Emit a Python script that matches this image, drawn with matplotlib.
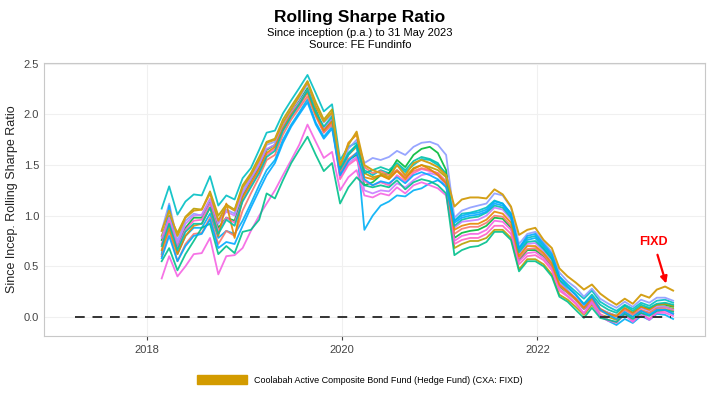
import numpy as np
import pandas as pd
import matplotlib
matplotlib.use("Agg")
import matplotlib.pyplot as plt
import matplotlib.dates as mdates

plt.rcParams['font.family'] = ['Liberation Sans', 'DejaVu Sans']

# monthly points, Feb 2018 .. May 2023
months = pd.period_range('2018-02', '2023-05', freq='M')
dates = months.to_timestamp(how='start') + pd.Timedelta(days=23)

fixd = [0.85, 1.05, 0.80, 0.98, 1.05, 1.06, 1.22, 0.95, 1.10, 1.05, 1.28, 1.40, 1.55, 1.72, 1.75, 1.92,
        2.05, 2.18, 2.32, 2.08, 1.93, 2.02, 1.50, 1.70, 1.83, 1.50, 1.45, 1.42, 1.38, 1.50, 1.40, 1.52,
        1.55, 1.52, 1.48, 1.40, 1.09, 1.16, 1.18, 1.18, 1.17, 1.26, 1.21, 1.09, 0.81, 0.86, 0.88, 0.76,
        0.68, 0.48, 0.40, 0.34, 0.27, 0.32, 0.23, 0.17, 0.12, 0.18, 0.13, 0.22, 0.19, 0.27, 0.30, 0.26]

peers = {
    '#00BFC4': [1.07, 1.29, 1.01, 1.14, 1.21, 1.20, 1.39, 1.10, 1.20, 1.16, 1.37, 1.47, 1.65, 1.82, 1.84, 2.01,
                2.14, 2.26, 2.39, 2.21, 2.03, 2.10, 1.55, 1.68, 1.72, 1.45, 1.40, 1.45, 1.42, 1.50, 1.43, 1.50,
                1.56, 1.55, 1.50, 1.42, 0.95, 1.02, 1.03, 1.05, 1.08, 1.15, 1.12, 1.02, 0.68, 0.78, 0.80, 0.70,
                0.60, 0.40, 0.32, 0.25, 0.18, 0.26, 0.15, 0.10, 0.06, 0.12, 0.08, 0.14, 0.11, 0.16, 0.17, 0.14],
    '#B79F00': [0.80, 1.00, 0.83, 0.99, 1.07, 1.06, 1.24, 1.00, 1.11, 1.06, 1.30, 1.42, 1.58, 1.73, 1.76, 1.95,
                2.08, 2.20, 2.33, 2.12, 1.95, 2.05, 1.45, 1.60, 1.68, 1.42, 1.38, 1.40, 1.37, 1.45, 1.38, 1.47,
                1.50, 1.48, 1.45, 1.38, 0.68, 0.72, 0.75, 0.75, 0.78, 0.86, 0.86, 0.78, 0.47, 0.57, 0.57, 0.52,
                0.42, 0.22, 0.17, 0.10, 0.02, 0.12, 0.02, 0.00, -0.03, 0.04, 0.00, 0.06, 0.04, 0.09, 0.10, 0.08],
    '#00BA38': [0.76, 0.92, 0.70, 0.88, 0.98, 0.98, 1.13, 0.88, 0.98, 0.95, 1.20, 1.35, 1.48, 1.65, 1.70, 1.88,
                2.02, 2.13, 2.26, 2.05, 1.85, 1.95, 1.40, 1.55, 1.60, 1.30, 1.33, 1.40, 1.42, 1.55, 1.48, 1.60,
                1.66, 1.68, 1.62, 1.45, 0.78, 0.83, 0.85, 0.86, 0.90, 0.98, 0.97, 0.88, 0.56, 0.66, 0.66, 0.60,
                0.50, 0.30, 0.24, 0.17, 0.08, 0.17, 0.07, 0.04, 0.01, 0.08, 0.04, 0.10, 0.08, 0.12, 0.12, 0.10],
    '#8C9CFF': [0.85, 1.12, 0.75, 0.95, 1.02, 1.00, 1.16, 0.92, 1.06, 1.02, 1.25, 1.38, 1.52, 1.70, 1.73, 1.92,
                2.05, 2.16, 2.30, 2.08, 1.92, 2.00, 1.48, 1.66, 1.75, 1.52, 1.57, 1.55, 1.58, 1.64, 1.60, 1.68,
                1.72, 1.73, 1.70, 1.60, 0.98, 1.05, 1.08, 1.10, 1.12, 1.22, 1.20, 1.08, 0.72, 0.82, 0.84, 0.74,
                0.64, 0.44, 0.35, 0.29, 0.20, 0.28, 0.18, 0.13, 0.09, 0.15, 0.10, 0.17, 0.14, 0.19, 0.19, 0.16],
    '#00B0F6': [0.62, 1.10, 0.62, 0.80, 0.88, 0.88, 1.02, 0.78, 0.85, 0.82, 0.95, 1.12, 1.30, 1.45, 1.55, 1.75,
                1.90, 2.02, 2.15, 1.92, 1.78, 1.88, 1.42, 1.60, 1.70, 0.86, 1.00, 1.10, 1.14, 1.20, 1.19, 1.25,
                1.27, 1.32, 1.35, 1.30, 0.95, 1.00, 1.02, 1.03, 1.06, 1.14, 1.12, 1.02, 0.66, 0.76, 0.78, 0.68,
                0.58, 0.36, 0.26, 0.18, 0.08, 0.14, 0.02, -0.04, -0.08, -0.02, -0.06, 0.01, -0.03, 0.03, 0.02, -0.02],
    '#C77CFF': [0.78, 0.98, 0.72, 0.92, 1.00, 1.01, 1.17, 0.93, 1.04, 1.00, 1.22, 1.36, 1.50, 1.66, 1.70, 1.88,
                2.02, 2.12, 2.24, 2.02, 1.86, 1.96, 1.38, 1.52, 1.58, 1.25, 1.22, 1.25, 1.24, 1.32, 1.28, 1.35,
                1.40, 1.42, 1.40, 1.30, 0.88, 0.94, 0.95, 0.96, 1.00, 1.08, 1.06, 0.96, 0.62, 0.72, 0.73, 0.65,
                0.55, 0.34, 0.26, 0.19, 0.10, 0.20, 0.08, 0.04, 0.01, 0.08, 0.03, 0.09, 0.06, 0.10, 0.10, 0.07],
    '#FF61C3': [0.72, 0.95, 0.68, 0.86, 0.95, 0.96, 1.12, 0.85, 0.98, 0.93, 1.15, 1.30, 1.44, 1.60, 1.66, 1.84,
                1.98, 2.08, 2.22, 2.00, 1.82, 1.92, 1.36, 1.50, 1.56, 1.34, 1.30, 1.33, 1.30, 1.40, 1.34, 1.42,
                1.46, 1.44, 1.42, 1.33, 0.72, 0.76, 0.78, 0.78, 0.82, 0.90, 0.90, 0.82, 0.52, 0.60, 0.61, 0.56,
                0.46, 0.26, 0.20, 0.13, 0.03, 0.16, 0.03, -0.03, -0.06, 0.04, -0.04, 0.04, -0.02, 0.05, 0.06, 0.03],
    '#F564E3': [0.38, 0.60, 0.40, 0.50, 0.62, 0.63, 0.78, 0.42, 0.60, 0.61, 0.68, 0.85, 1.00, 1.12, 1.25, 1.40,
                1.55, 1.70, 1.90, 1.73, 1.57, 1.63, 1.25, 1.38, 1.45, 1.20, 1.18, 1.22, 1.20, 1.28, 1.22, 1.30,
                1.33, 1.30, 1.27, 1.20, 0.75, 0.80, 0.82, 0.82, 0.86, 0.95, 0.94, 0.86, 0.55, 0.63, 0.64, 0.58,
                0.48, 0.28, 0.21, 0.14, 0.04, 0.14, 0.00, -0.04, -0.05, 0.02, -0.05, 0.03, -0.03, 0.04, 0.04, 0.01],
    '#F8766D': [0.60, 0.85, 0.55, 0.72, 0.82, 0.83, 0.98, 0.72, 0.85, 0.80, 1.05, 1.22, 1.38, 1.55, 1.60, 1.80,
                1.95, 2.06, 2.18, 1.98, 1.82, 1.90, 1.42, 1.56, 1.62, 1.48, 1.42, 1.44, 1.40, 1.45, 1.38, 1.44,
                1.47, 1.45, 1.42, 1.34, 0.82, 0.87, 0.89, 0.89, 0.93, 1.00, 0.99, 0.90, 0.58, 0.67, 0.68, 0.61,
                0.51, 0.31, 0.24, 0.17, 0.08, 0.18, 0.06, 0.02, 0.00, 0.07, 0.02, 0.07, 0.04, 0.08, 0.08, 0.06],
    '#00C08B': [0.55, 0.68, 0.46, 0.62, 0.75, 0.88, 0.92, 0.62, 0.70, 0.63, 0.84, 0.86, 0.96, 1.22, 1.17, 1.35,
                1.52, 1.65, 1.78, 1.60, 1.44, 1.52, 1.12, 1.28, 1.38, 1.30, 1.28, 1.30, 1.28, 1.35, 1.26, 1.33,
                1.36, 1.34, 1.30, 1.22, 0.61, 0.66, 0.69, 0.70, 0.74, 0.84, 0.84, 0.76, 0.45, 0.55, 0.55, 0.50,
                0.40, 0.20, 0.15, 0.07, -0.01, 0.09, -0.01, -0.03, -0.05, 0.03, -0.02, 0.04, 0.01, 0.06, 0.07, 0.05],
    '#E58700': [0.66, 0.88, 0.62, 0.80, 0.90, 0.92, 1.08, 0.80, 1.12, 0.78, 1.18, 1.32, 1.46, 1.62, 1.68, 1.86,
                2.00, 2.10, 2.22, 2.00, 1.84, 1.93, 1.48, 1.72, 1.80, 1.38, 1.36, 1.40, 1.36, 1.44, 1.36, 1.46,
                1.50, 1.46, 1.40, 1.32, 0.86, 0.90, 0.92, 0.92, 0.96, 1.04, 1.02, 0.93, 0.60, 0.70, 0.70, 0.63,
                0.53, 0.32, 0.25, 0.18, 0.09, 0.19, 0.08, 0.03, 0.01, 0.09, 0.04, 0.10, 0.07, 0.12, 0.13, 0.11],
    '#00C1A9': [0.70, 0.92, 0.66, 0.84, 0.92, 0.92, 1.08, 0.82, 0.96, 0.90, 1.14, 1.28, 1.42, 1.58, 1.64, 1.84,
                1.98, 2.10, 2.24, 2.02, 1.88, 1.98, 1.46, 1.62, 1.70, 1.42, 1.45, 1.48, 1.45, 1.52, 1.45, 1.54,
                1.58, 1.56, 1.52, 1.40, 0.90, 0.96, 0.98, 0.99, 1.03, 1.10, 1.08, 0.98, 0.64, 0.74, 0.75, 0.67,
                0.57, 0.37, 0.29, 0.22, 0.13, 0.22, 0.12, 0.07, 0.04, 0.11, 0.06, 0.12, 0.09, 0.13, 0.14, 0.12],
    '#00A9FF': [0.58, 0.80, 0.55, 0.70, 0.80, 0.82, 0.96, 0.68, 0.74, 0.72, 0.90, 1.08, 1.25, 1.40, 1.52, 1.72,
                1.88, 2.00, 2.12, 1.90, 1.76, 1.86, 1.40, 1.54, 1.62, 1.36, 1.30, 1.34, 1.32, 1.38, 1.32, 1.40,
                1.43, 1.40, 1.36, 1.28, 0.93, 0.98, 1.00, 1.01, 1.04, 1.12, 1.10, 1.00, 0.68, 0.80, 0.82, 0.72,
                0.62, 0.40, 0.30, 0.22, 0.12, 0.20, 0.07, 0.02, -0.02, 0.05, 0.00, 0.06, 0.02, 0.07, 0.07, 0.03],
}

fixd_color = '#D4A017'
fixd_label = 'Coolabah Active Composite Bond Fund (Hedge Fund) (CXA: FIXD)'

fig = plt.figure(figsize=(7.2, 3.95), dpi=100)
ax = fig.add_axes([0.061, 0.149, 0.918, 0.692])

for c, vals in peers.items():
    ax.plot(dates, vals, color=c, lw=1.3, alpha=0.9)
ax.plot(dates, fixd, color=fixd_color, lw=1.4, label=fixd_label)

# zero line
ax.plot([pd.Timestamp('2017-04-05'), pd.Timestamp('2023-05-15')], [0, 0],
        color='#333333', lw=1.4, ls=(0, (5, 4)))

ax.set_xlim(pd.Timestamp('2016-12-10'), pd.Timestamp('2023-09-20'))
ax.set_ylim(-0.19, 2.51)
ax.set_yticks([0.0, 0.5, 1.0, 1.5, 2.0, 2.5])
ax.yaxis.set_major_formatter(plt.FuncFormatter(lambda v, p: f'{v:.1f}'))
ax.xaxis.set_major_locator(mdates.YearLocator(2))
ax.xaxis.set_major_formatter(mdates.DateFormatter('%Y'))
ax.grid(color='#F0F0F0', lw=0.8)
ax.set_axisbelow(True)
for s in ax.spines.values():
    s.set_color('#C8C8C8')
ax.tick_params(axis='both', labelsize=8, colors='#444444', length=3)
ax.tick_params(axis='y', length=0)
ax.set_ylabel('Since Incep. Rolling Sharpe Ratio', fontsize=9, color='#222222')

ax.annotate('FIXD', xy=(pd.Timestamp('2023-04-28'), 0.33),
            xytext=(pd.Timestamp('2023-03-12'), 0.74),
            color='red', fontsize=9, fontweight='bold', ha='center', va='center',
            arrowprops=dict(arrowstyle='-|>', color='red', lw=1.6, shrinkA=3, shrinkB=0,
                            mutation_scale=10))

fig.text(0.5, 0.955, 'Rolling Sharpe Ratio', ha='center', va='center', fontsize=12.5, fontweight='bold')
fig.text(0.5, 0.917, 'Since inception (p.a.) to 31 May 2023', ha='center', va='center', fontsize=8)
fig.text(0.5, 0.886, 'Source: FE Fundinfo', ha='center', va='center', fontsize=8)

fig.legend(handles=[plt.Rectangle((0, 0), 1, 1, color='#D39B00')], labels=[fixd_label],
           loc='center', bbox_to_anchor=(0.5, 0.038), frameon=False, fontsize=6.5,
           handlelength=5.5, handleheight=1.0, handletextpad=0.8)

fig.savefig('out.png', dpi=100)
